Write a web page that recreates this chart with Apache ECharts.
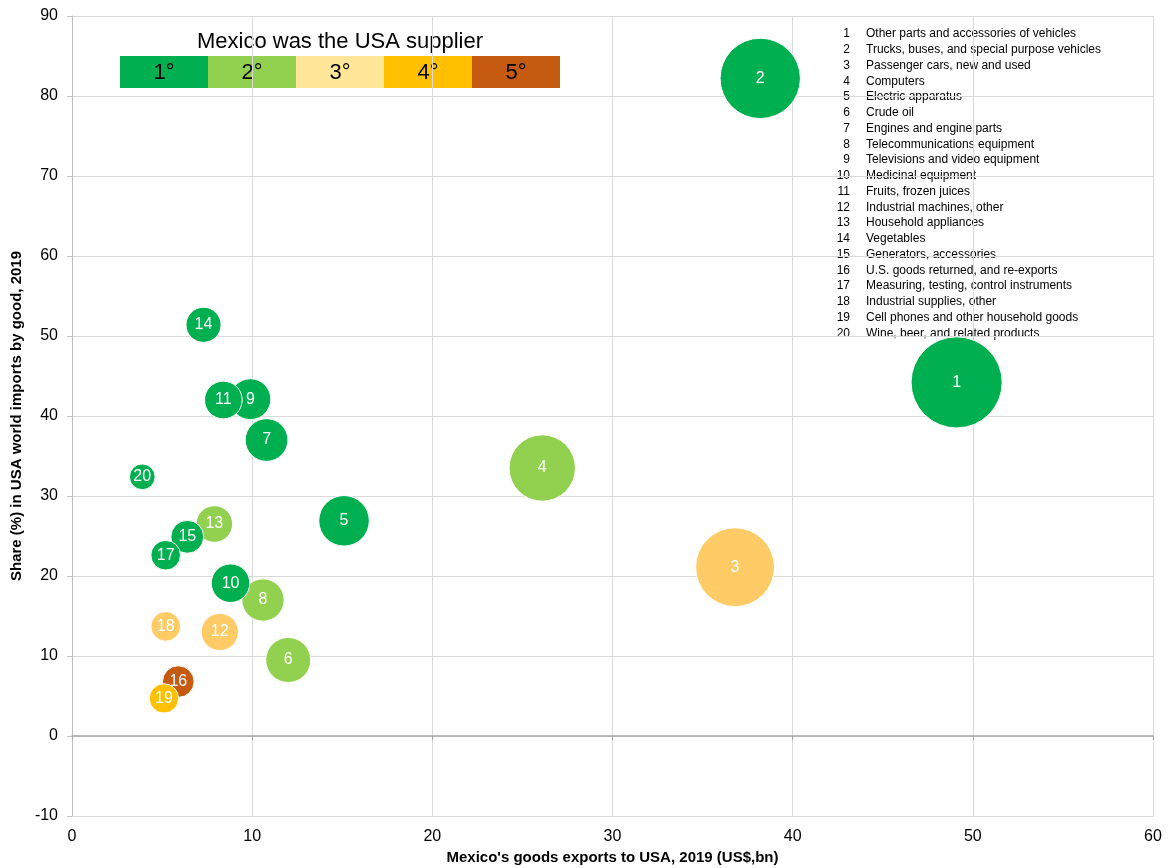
<!DOCTYPE html>
<html>
<head>
<meta charset="utf-8">
<script src="https://cdn.jsdelivr.net/npm/echarts@6/dist/echarts.min.js"></script>
<style>
html,body{margin:0;padding:0;background:#fff;}
#chart{width:1171px;height:868px;}
</style>
</head>
<body>
<div id="chart"></div>
<script>
// ---- data ----
const ids = [1,2,3,4,5,6,7,8,9,10,11,12,13,14,15,16,17,18,19,20];
const goods = [
  "Other parts and accessories of vehicles",
  "Trucks, buses, and special purpose vehicles",
  "Passenger cars, new and used",
  "Computers",
  "Electric apparatus",
  "Crude oil",
  "Engines and engine parts",
  "Telecommunications equipment",
  "Televisions and video equipment",
  "Medicinal equipment",
  "Fruits, frozen juices",
  "Industrial machines, other",
  "Household appliances",
  "Vegetables",
  "Generators, accessories",
  "U.S. goods returned, and re-exports",
  "Measuring, testing, control instruments",
  "Industrial supplies, other",
  "Cell phones and other household goods",
  "Wine, beer, and related products"
];
const exportsBn = [49.1, 38.2, 36.8, 26.1, 15.1, 12.0, 10.8, 10.6, 9.9, 8.8, 8.4, 8.2, 7.9, 7.3, 6.4, 5.9, 5.2, 5.2, 5.1, 3.9];
const sharePct  = [44.2, 82.2, 21.1, 33.5, 26.9, 9.5, 37.0, 17.0, 42.1, 19.1, 42.0, 13.0, 26.5, 51.4, 24.9, 6.8, 22.6, 13.7, 4.7, 32.4];
const supplierRank = [1, 1, 3, 2, 1, 2, 1, 2, 1, 1, 1, 3, 2, 1, 1, 5, 1, 3, 4, 1];
const rankLabels = ["1°", "2°", "3°", "4°", "5°"];
const xTicks = [0, 10, 20, 30, 40, 50, 60];
const yTicks = [-10, 0, 10, 20, 30, 40, 50, 60, 70, 80, 90];

// ---- styles ----
const bubbleColors = ["#00B050", "#92D050", "#FFCB66", "#FFC000", "#C55A11"];
const legendColors = ["#00B050", "#92D050", "#FFE699", "#FFC000", "#C55A11"];
const FONT = "Liberation Sans, Arial, sans-serif";

const chart = echarts.init(document.getElementById('chart'), null, {renderer: 'canvas'});

const seriesData = ids.map((id, i) => ({
  value: [exportsBn[i], sharePct[i], id],
  itemStyle: { color: bubbleColors[supplierRank[i] - 1] }
}));

// top-left colour key
const keyChildren = [{
  type: 'text',
  style: { text: "Mexico was the USA supplier", x: 220, y: 26, textAlign: 'center', textVerticalAlign: 'middle',
           font: "22px " + FONT, fill: "#000" }
}];
rankLabels.forEach((lab, i) => {
  keyChildren.push({
    type: 'rect', shape: { x: i * 88, y: 40, width: 88, height: 32 },
    style: { fill: legendColors[i] }
  });
  keyChildren.push({
    type: 'text',
    style: { text: lab, x: i * 88 + 44, y: 57, textAlign: 'center', textVerticalAlign: 'middle',
             font: "22px " + FONT, fill: "#000" }
  });
});

// right-hand list of goods
const listChildren = [];
goods.forEach((g, i) => {
  listChildren.push({
    type: 'text',
    style: { text: String(ids[i]), x: 0, y: i * 15.75, textAlign: 'right', textVerticalAlign: 'middle',
             font: "12px " + FONT, fill: "#000" }
  });
  listChildren.push({
    type: 'text',
    style: { text: g, x: 16, y: i * 15.75, textAlign: 'left', textVerticalAlign: 'middle',
             font: "12px " + FONT, fill: "#000" }
  });
});

const option = {
  backgroundColor: '#fff',
  animation: false,
  grid: { left: 72, right: 18, top: 16, bottom: 52, containLabel: false, outerBoundsMode: 'none' },
  xAxis: [{
    type: 'value', min: xTicks[0], max: xTicks[xTicks.length - 1], interval: 10,
    position: 'bottom',
    name: "Mexico's goods exports to USA, 2019 (US$,bn)",
    nameLocation: 'middle', nameGap: 33,
    nameTextStyle: { fontFamily: FONT, fontSize: 15, fontWeight: 'bold', color: '#000' },
    axisLine: { onZero: false, show: true, lineStyle: { color: '#d9d9d9' } },
    axisTick: { show: false },
    axisLabel: { fontFamily: FONT, fontSize: 16, color: '#000', margin: 13 },
    splitLine: { show: true, lineStyle: { color: '#d9d9d9', width: 1 } }
  }, {
    type: 'value', min: xTicks[0], max: xTicks[xTicks.length - 1], interval: 10,
    position: 'bottom',
    axisLine: { onZero: true, show: true, lineStyle: { color: '#a6a6a6', width: 1.5 } },
    axisTick: { show: true, length: 4, lineStyle: { color: '#a6a6a6' } },
    axisLabel: { show: false },
    splitLine: { show: false }
  }],
  yAxis: {
    type: 'value', min: yTicks[0], max: yTicks[yTicks.length - 1], interval: 10,
    name: "Share (%) in USA world imports by good, 2019",
    nameLocation: 'middle', nameGap: 46,
    nameTextStyle: { fontFamily: FONT, fontSize: 15, fontWeight: 'bold', color: '#000' },
    axisLine: { show: true, lineStyle: { color: '#bfbfbf' } },
    axisTick: { show: true, length: 5, lineStyle: { color: '#bfbfbf' } },
    axisLabel: { fontFamily: FONT, fontSize: 16, color: '#000', margin: 14 },
    splitLine: { show: true, lineStyle: { color: '#d9d9d9', width: 1 } }
  },
  series: [{
    type: 'scatter',
    xAxisIndex: 0,
    data: seriesData,
    symbol: 'circle',
    symbolSize: v => 13 * Math.sqrt(v[0]),
    itemStyle: { borderColor: '#fff', borderWidth: 1, opacity: 1 },
    label: {
      show: true, position: 'inside',
      formatter: p => String(p.value[2]),
      fontFamily: FONT, fontSize: 16, color: '#fff'
    },
    emphasis: { disabled: true }
  }],
  graphic: [
    { type: 'group', x: 120, y: 16, children: keyChildren },
    { type: 'group', x: 850, y: 34, children: listChildren }
  ]
};
chart.setOption(option);
</script>
</body>
</html>
